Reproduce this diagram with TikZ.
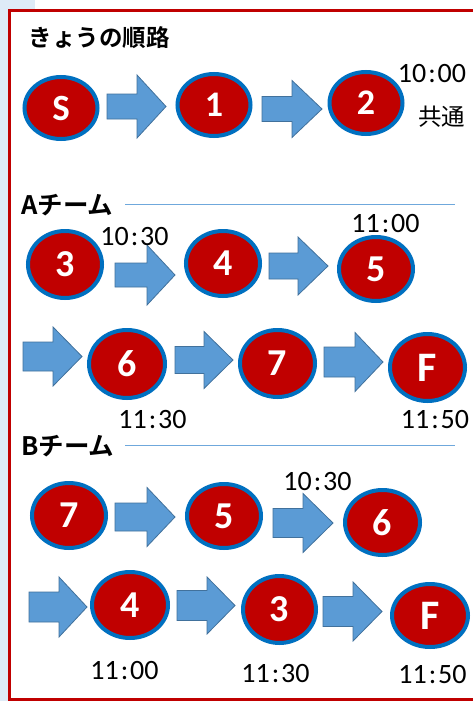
\documentclass[tikz,border=0pt]{standalone}
\usepackage{fontspec}
\setmainfont{Carlito}
\newfontfamily\jpfont[BoldFont={Noto Sans CJK JP Bold}]{Noto Sans CJK JP}
\usetikzlibrary{shapes.geometric}
\definecolor{stopred}{HTML}{C00000}
\definecolor{stopblue}{HTML}{0070C0}
\definecolor{arrfill}{HTML}{5B9BD5}
\definecolor{arrdraw}{HTML}{41719C}
\definecolor{frame}{HTML}{C00000}
\definecolor{strip}{HTML}{DEEBF7}
\definecolor{rule}{HTML}{6FA8DC}
\begin{document}
\begin{tikzpicture}[x=1pt,y=-1pt,
  stop/.style={ellipse, draw=stopblue, fill=stopred, line width=4pt, inner sep=0pt,
    text=white, font=\fontsize{38}{38}\selectfont\bfseries},
  bigl/.style={font=\fontsize{42}{42}\selectfont\bfseries},
  timelbl/.style={anchor=base, inner sep=0pt, font=\fontsize{28}{28}\selectfont},
  arrowbox/.style={fill=arrfill, draw=arrdraw, line width=0.8pt, line join=miter},
  teamlbl/.style={anchor=west, inner sep=0pt, font=\jpfont\bfseries\fontsize{25.5}{25.5}\selectfont},
  pics/barrow/.style n args={6}{code={
    \draw[arrowbox] (#1,{#3-#4}) -- (#6,{#3-#4}) -- (#6,{#3-#5}) -- (#2,#3)
      -- (#6,{#3+#5}) -- (#6,{#3+#4}) -- (#1,{#3+#4}) -- cycle;}}
]
\useasboundingbox (0,0) rectangle (472,701);
\fill[white] (0,0) rectangle (472,701);
\fill[strip] (0,0) rectangle (8,701);
\fill[strip] (0,0) rectangle (35,9);
\draw[frame, line width=3pt] (9.5,10.5) rectangle (490,699.5);

% title
\node[anchor=west, inner sep=0pt, font=\jpfont\bfseries\fontsize{23.5}{23.5}\selectfont] (title) at (28.5,38) {きょうの順路};

% row 1
\node[stop, minimum width=73pt, minimum height=62pt, font=\fontsize{37}{37}\selectfont\bfseries] (s) at (61,108) {S};
\node[stop, minimum width=73pt, minimum height=62pt, font=\fontsize{36}{36}\selectfont\bfseries] (n1) at (214,105) {1};
\node[stop, minimum width=73pt, minimum height=62pt, font=\fontsize{36}{36}\selectfont\bfseries] (n2) at (366,103) {2};
\pic (r1a) at (0,0) {barrow={107}{166}{106.5}{12.5}{31.5}{137}};
\pic (r1b) at (0,0) {barrow={262}{322}{109}{12.5}{28.5}{292}};
\node[timelbl] (t1000) at (432,82) {10\kern2pt:\kern2pt00};
\node[inner sep=0pt, font=\jpfont\fontsize{23.5}{23.5}\selectfont] (kyotsu) at (441.5,116.5) {共通};

% A team
\node[teamlbl] (ateam) at (21,205) {Aチーム};
\coordinate (al1) at (125,204);
\coordinate (al2) at (455,204);
\draw[rule, line width=1pt] (al1) -- (al2);

\node[stop, minimum width=74pt, minimum height=67pt] (a3) at (65,264.5) {3};
\node[stop, minimum width=74pt, minimum height=65pt] (a4) at (223,263.5) {4};
\node[stop, minimum width=74pt, minimum height=64pt] (a5) at (376,269) {5};
\pic (aa) at (0,0) {barrow={115}{175}{275}{12}{30}{147}};
\pic (ab) at (0,0) {barrow={269}{328}{266}{13}{29}{298}};
\node[timelbl] (a1030) at (134.5,245) {10\kern2pt:\kern2pt30};
\node[timelbl] (a1100) at (385.5,232) {11\kern2pt:\kern2pt00};

\pic (ac) at (0,0) {barrow={23}{82}{356.5}{14.5}{29.5}{53}};
\node[stop, minimum width=76pt, minimum height=68pt] (a6) at (127,364) {6};
\pic (ad) at (0,0) {barrow={175}{233}{360}{13.5}{28.5}{204}};
\node[stop, minimum width=75pt, minimum height=67pt] (a7) at (277.5,363.5) {7};
\pic (ae) at (0,0) {barrow={324}{383}{362}{15}{29.5}{355}};
\node[stop, bigl, minimum width=75pt, minimum height=67pt] (af) at (427.5,367.5) {F};
\node[timelbl] (a1130) at (152.5,428) {11\kern2pt:\kern2pt30};
\node[timelbl] (a1150) at (435,428) {11\kern2pt:\kern2pt50};

% B team
\node[teamlbl] (bteam) at (21,446) {Bチーム};
\coordinate (bl1) at (125,445);
\coordinate (bl2) at (455,445);
\draw[rule, line width=1pt] (bl1) -- (bl2);

\node[stop, minimum width=74pt, minimum height=65pt] (b7) at (69,515.5) {7};
\pic (ba) at (0,0) {barrow={115}{175}{517}{14}{29.5}{147}};
\node[stop, minimum width=74pt, minimum height=64pt] (b5) at (224,516) {5};
\pic (bb) at (0,0) {barrow={273}{333}{523}{14.5}{29.5}{303}};
\node[stop, minimum width=75pt, minimum height=65pt] (b6) at (382.5,522.5) {6};
\node[timelbl] (b1030) at (317.5,490) {10\kern2pt:\kern2pt30};

\pic (bc) at (0,0) {barrow={29}{87}{607}{15}{30}{59}};
\node[stop, minimum width=76pt, minimum height=66pt] (b4) at (130,605) {4};
\pic (bd) at (0,0) {barrow={177}{235}{605.5}{15}{28.5}{207}};
\node[stop, minimum width=73pt, minimum height=67pt] (b3) at (279.5,609.5) {3};
\pic (be) at (0,0) {barrow={323}{382}{611.5}{15}{29.5}{353}};
\node[stop, bigl, minimum width=76pt, minimum height=63pt] (bf) at (430,615.5) {F};
\node[timelbl] (b1100) at (124.5,679) {11\kern2pt:\kern2pt00};
\node[timelbl] (b1130) at (275.5,682) {11\kern2pt:\kern2pt30};
\node[timelbl] (b1150) at (432.5,683) {11\kern2pt:\kern2pt50};
\end{tikzpicture}
\end{document}
